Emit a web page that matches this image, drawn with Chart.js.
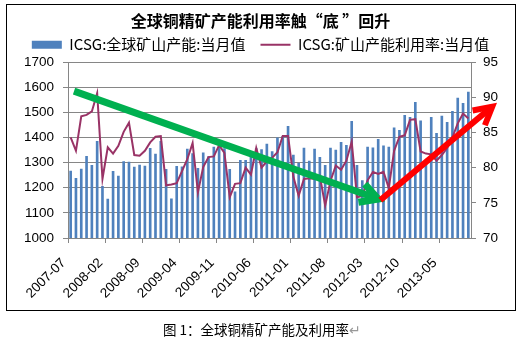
<!DOCTYPE html>
<html>
<head>
<meta charset="utf-8">
<script src="https://cdn.jsdelivr.net/npm/chart.js@4.4.1/dist/chart.umd.min.js"></script>
<style>
  body { margin: 0; background: #fff; }
  #wrap { position: relative; width: 521px; height: 341px; }
  #caption { position: absolute; left: 0; top: 319px; width: 524px; text-align: center;
             font: 13.5px 'Noto Sans CJK SC'; color: #000; }
</style>
</head>
<body>
<div id="wrap">
  <canvas id="chart" width="521" height="341"></canvas>
  <div id="caption">图 1：全球铜精矿产能及利用率<span style="color:#999">↵</span></div>
</div>
<script>
// monthly categories
const months = [
  '2007-07','2007-08','2007-09','2007-10','2007-11','2007-12',
  '2008-01','2008-02','2008-03','2008-04','2008-05','2008-06','2008-07','2008-08','2008-09','2008-10','2008-11','2008-12',
  '2009-01','2009-02','2009-03','2009-04','2009-05','2009-06','2009-07','2009-08','2009-09','2009-10','2009-11','2009-12',
  '2010-01','2010-02','2010-03','2010-04','2010-05','2010-06','2010-07','2010-08','2010-09','2010-10','2010-11','2010-12',
  '2011-01','2011-02','2011-03','2011-04','2011-05','2011-06','2011-07','2011-08','2011-09','2011-10','2011-11','2011-12',
  '2012-01','2012-02','2012-03','2012-04','2012-05','2012-06','2012-07','2012-08','2012-09','2012-10','2012-11','2012-12',
  '2013-01','2013-02','2013-03','2013-04','2013-05','2013-06','2013-07','2013-08','2013-09','2013-10'
];
const tickLabels = ['2007-07','2008-02','2008-09','2009-04','2009-11','2010-06','2011-01','2011-08','2012-03','2012-10','2013-05'];

// ICSG: global mine capacity (left axis)
const capacity = [
  1268,1239,1276,1327,1291,1386,1207,1156,1267,1248,1306,1304,1284,1292,1288,1358,1335,1386,1275,1157,
  1287,1285,1355,1337,1279,1340,1326,1363,1372,1357,1275,1185,1311,1311,1337,1357,1353,1375,1345,1400,
  1406,1446,1331,1300,1359,1308,1355,1323,1291,1359,1351,1382,1370,1466,1291,1230,1363,1360,1394,1368,
  1363,1440,1430,1490,1482,1542,1468,1300,1482,1418,1487,1462,1506,1558,1538,1582
];
// ICSG: mine capacity utilization % (right axis)
const utilization = [
  84.3,82.4,87.3,87.5,88.0,90.6,78.4,82.9,82.0,83.1,85.1,86.4,81.8,81.7,82.4,83.6,84.4,84.5,77.5,77.6,
  77.8,79.5,81.2,83.5,76.5,80.1,81.5,81.6,83.2,82.1,75.8,77.7,77.8,80.0,79.0,82.8,80.0,80.9,81.4,82.2,
  84.5,84.5,78.7,76.0,78.4,78.5,78.4,78.8,74.6,78.1,80.3,79.7,81.0,83.7,75.8,76.0,78.2,79.4,79.1,79.4,
  77.1,82.4,84.4,84.6,86.8,86.9,82.3,82.0,81.9,81.0,81.8,82.8,84.3,86.3,87.7,87.0
];

// annotation arrows, in (category index, left-axis value)
const greenArrow = { from: [0.64, 1585], to: [58.0, 1155] };
const redArrow = { from: [58.4, 1151], to: [79.5, 1523] };

const barColor = '#4F81BD';
const lineColor = '#993366';
const gridColor = '#868686';
const tickFont = { family: 'Liberation Sans', size: 13.5 };

function drawArrow(chart, arrow, color, width, headLen, headAng) {
  const xs = chart.scales.x, ys = chart.scales.y;
  const ctx = chart.ctx;
  const x0 = xs.getPixelForValue(arrow.from[0]), y0 = ys.getPixelForValue(arrow.from[1]);
  const x1 = xs.getPixelForValue(arrow.to[0]), y1 = ys.getPixelForValue(arrow.to[1]);
  const ang = Math.atan2(y0 - y1, x0 - x1);
  ctx.save();
  ctx.strokeStyle = color;
  ctx.lineWidth = width;
  ctx.lineCap = 'butt';
  ctx.lineJoin = 'miter';
  ctx.beginPath();
  ctx.moveTo(x0, y0);
  ctx.lineTo(x1, y1);
  ctx.stroke();
  ctx.beginPath();
  ctx.moveTo(x1 + headLen * Math.cos(ang + headAng), y1 + headLen * Math.sin(ang + headAng));
  ctx.lineTo(x1, y1);
  ctx.lineTo(x1 + headLen * Math.cos(ang - headAng), y1 + headLen * Math.sin(ang - headAng));
  ctx.stroke();
  ctx.restore();
}

const framePlugin = {
  id: 'frame',
  beforeDraw(chart) {
    const ctx = chart.ctx;
    ctx.save();
    ctx.fillStyle = '#fff';
    ctx.fillRect(0, 0, chart.width, chart.height);
    ctx.strokeStyle = '#000';
    ctx.lineWidth = 1;
    ctx.strokeRect(6.5, 4.5, 509, 306);
    ctx.restore();
  },
  afterDraw(chart) {
    drawArrow(chart, greenArrow, '#00B050', 7, 20, 0.5);
    drawArrow(chart, redArrow, '#FF0000', 6, 20, 0.5);
  }
};

new Chart(document.getElementById('chart'), {
  data: {
    labels: months,
    datasets: [
      { type: 'bar', label: 'ICSG:全球矿山产能:当月值', data: capacity, yAxisID: 'y',
        backgroundColor: barColor, barPercentage: 0.5, categoryPercentage: 1, order: 1 },
      { type: 'line', label: 'ICSG:矿山产能利用率:当月值', data: utilization, yAxisID: 'y1',
        borderColor: lineColor, borderWidth: 2, pointRadius: 0, tension: 0, order: 0 }
    ]
  },
  options: {
    responsive: false,
    animation: false,
    layout: { padding: { left: 10, right: 10, top: 5, bottom: 38 } },
    plugins: {
      title: {
        display: true,
        text: '全球铜精矿产能利用率触“底 ”回升',
        color: '#000',
        font: { family: 'Noto Sans CJK SC', size: 16, weight: 'bold', lineHeight: 0.2 },
        padding: { top: 14, bottom: 0 }
      },
      legend: {
        labels: {
          color: '#000',
          font: { family: 'Noto Sans CJK SC', size: 15 },
          usePointStyle: true,
          pointStyleWidth: 30,
          boxHeight: 8,
          padding: 15,
          generateLabels: chart => [
            { text: chart.data.datasets[0].label, fillStyle: barColor, strokeStyle: barColor,
              lineWidth: 0, pointStyle: 'rect', datasetIndex: 0 },
            { text: chart.data.datasets[1].label, fillStyle: lineColor, strokeStyle: lineColor,
              lineWidth: 2, pointStyle: 'line', datasetIndex: 1 }
          ]
        }
      },
      tooltip: { enabled: false }
    },
    scales: {
      x: {
        offset: true,
        afterFit: s => { s.height = 65; },
        grid: {
          offset: true,
          drawOnChartArea: false,
          tickLength: 5,
          color: c => (c.index % 7 === 0 ? gridColor : 'rgba(0,0,0,0)')
        },
        border: { color: gridColor },
        ticks: {
          autoSkip: false,
          minRotation: 45,
          maxRotation: 45,
          padding: 12,
          labelOffset: -7,
          color: '#000',
          font: tickFont,
          callback: (v, i) => (tickLabels.includes(months[i]) ? months[i] : '')
        }
      },
      y: {
        position: 'left',
        min: 1000, max: 1700,
        afterFit: s => { s.width = 58; },
        grid: { color: gridColor, tickLength: 5 },
        border: { color: gridColor },
        ticks: { stepSize: 100, padding: 9, color: '#000', font: tickFont, callback: v => String(v) }
      },
      y1: {
        position: 'right',
        min: 70, max: 95,
        afterFit: s => { s.width = 40; },
        grid: { drawOnChartArea: false, color: gridColor, tickLength: 5 },
        border: { color: gridColor },
        ticks: { stepSize: 5, padding: 7, color: '#000', font: tickFont, callback: v => String(v) }
      }
    }
  },
  plugins: [framePlugin]
});
</script>
</body>
</html>
